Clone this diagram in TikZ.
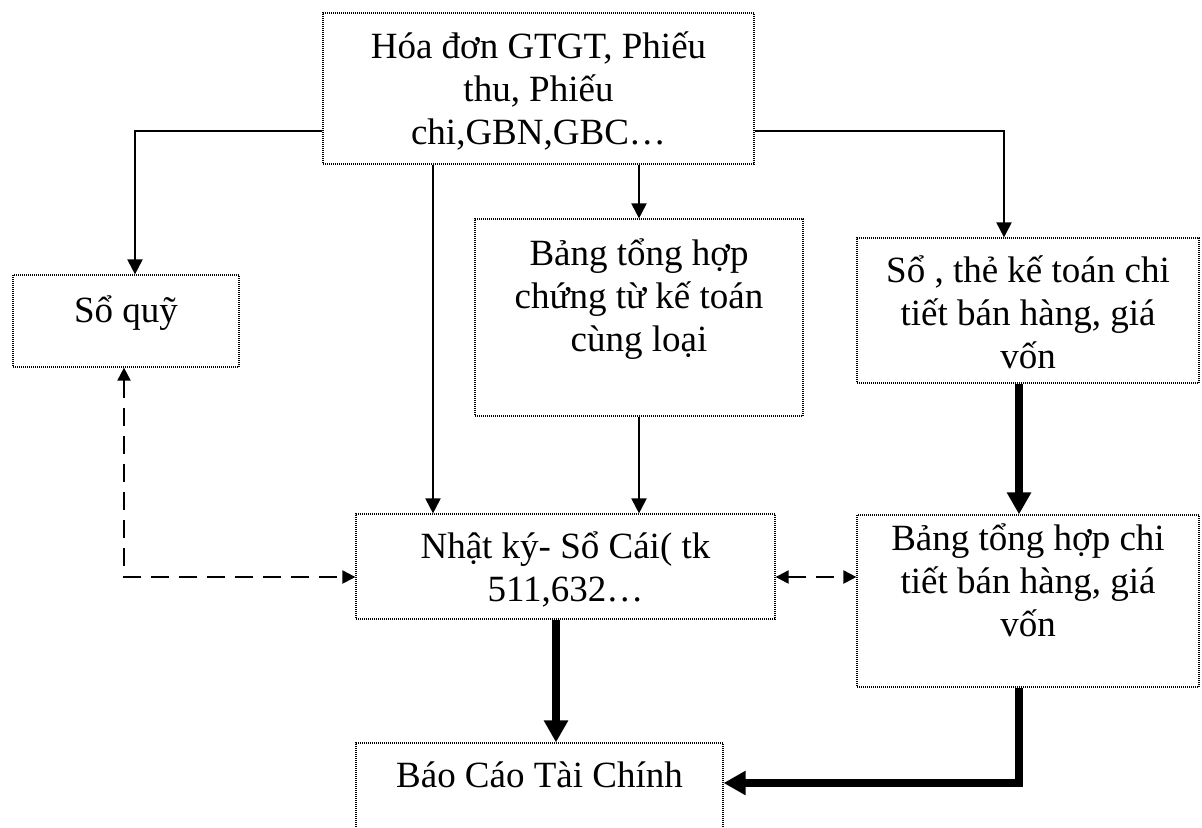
\documentclass[tikz,border=0pt]{standalone}
\usepackage{fontspec}
\setmainfont{Liberation Serif}
\usetikzlibrary{arrows.meta, positioning}

\tikzset{
    docbox/.style={draw, dash pattern=on 0.5pt off 0.5pt, line width=0.6pt, inner sep=0pt},
    flow/.style={-{Triangle[length=7.5pt, width=7.5pt]}, line width=1pt},
    heavyflow/.style={-{Triangle[length=11pt, width=11.5pt]}, line width=4pt},
    crossref/.style={{Triangle[length=6.5pt, width=6.5pt]}-{Triangle[length=6.5pt, width=6.5pt]}, line width=1pt, dash pattern=on 9pt off 5pt}
}
% width, height, top gap, text
\newcommand{\boxlabel}[4]{\parbox[c][#2][t]{#1}{\centering\vspace*{#3}\strut #4}}

\begin{document}
\begin{tikzpicture}[x=0.5pt, y=-0.5pt, font=\fontsize{18.5}{21.5}\selectfont]
    \useasboundingbox (0,0) rectangle (1202,827);
    \node[docbox] (hoadon) at (538.5, 88.5) {\boxlabel{215.5pt}{75.5pt}{7.5pt}{Hóa đơn GTGT, Phiếu\\thu, Phiếu\\chi,GBN,GBC…}};
    \node[docbox] (soquy) at (126, 321) {\boxlabel{113pt}{46pt}{8.5pt}{Sổ quỹ}};
    \node[docbox] (bangth) at (639, 317.5) {\boxlabel{164pt}{98.5pt}{8pt}{Bảng tổng hợp\\chứng từ kế toán\\cùng loại}};
    \node[docbox] (sothe) at (1028, 310.5) {\boxlabel{171pt}{72.5pt}{7pt}{Sổ , thẻ kế toán chi\\tiết bán hàng, giá\\vốn}};
    \node[docbox] (nhatky) at (565.5, 566.5) {\boxlabel{209.5pt}{52.5pt}{7pt}{Nhật ký- Sổ Cái( tk\\511,632…}};
    \node[docbox] (bangct) at (1028, 601) {\boxlabel{171pt}{86pt}{2.5pt}{Bảng tổng hợp chi\\tiết bán hàng, giá\\vốn}};
    \node[docbox] (baocao) at (539.5, 801.5) {\boxlabel{183.5pt}{58.5pt}{7pt}{Báo Cáo Tài Chính}};

    % thin arrows from the documents
    \draw[flow] ([yshift=-21.25pt]hoadon.west) -| ([xshift=4.5pt]soquy.north);
    \draw[flow] ([yshift=-21.25pt]hoadon.east) -| ([xshift=-12pt]sothe.north);
    \draw[flow] ([xshift=-52.75pt]hoadon.south) -- ([xshift=-52.75pt]hoadon.south |- nhatky.north);
    \draw[flow] (bangth.north |- hoadon.south) -- (bangth.north);
    \draw[flow] (bangth.south) -- (bangth.south |- nhatky.north);

    % dashed cross checks
    \draw[crossref] ([xshift=-1pt]soquy.south) |- ([yshift=-5.25pt]nhatky.west);
    \draw[crossref] ([yshift=-5.25pt]nhatky.east) -- ([yshift=-5.25pt]nhatky.east -| bangct.west);

    % thick arrows to the reports
    \draw[heavyflow] ([xshift=-4.5pt]sothe.south) -- ([xshift=-4.5pt]sothe.south |- bangct.north);
    \draw[heavyflow] ([xshift=-4.5pt]bangct.south) |- ([yshift=9.25pt]baocao.east);
    \draw[heavyflow] ([xshift=-4.75pt]nhatky.south) -- ([xshift=-4.75pt]nhatky.south |- baocao.north);
\end{tikzpicture}
\end{document}
